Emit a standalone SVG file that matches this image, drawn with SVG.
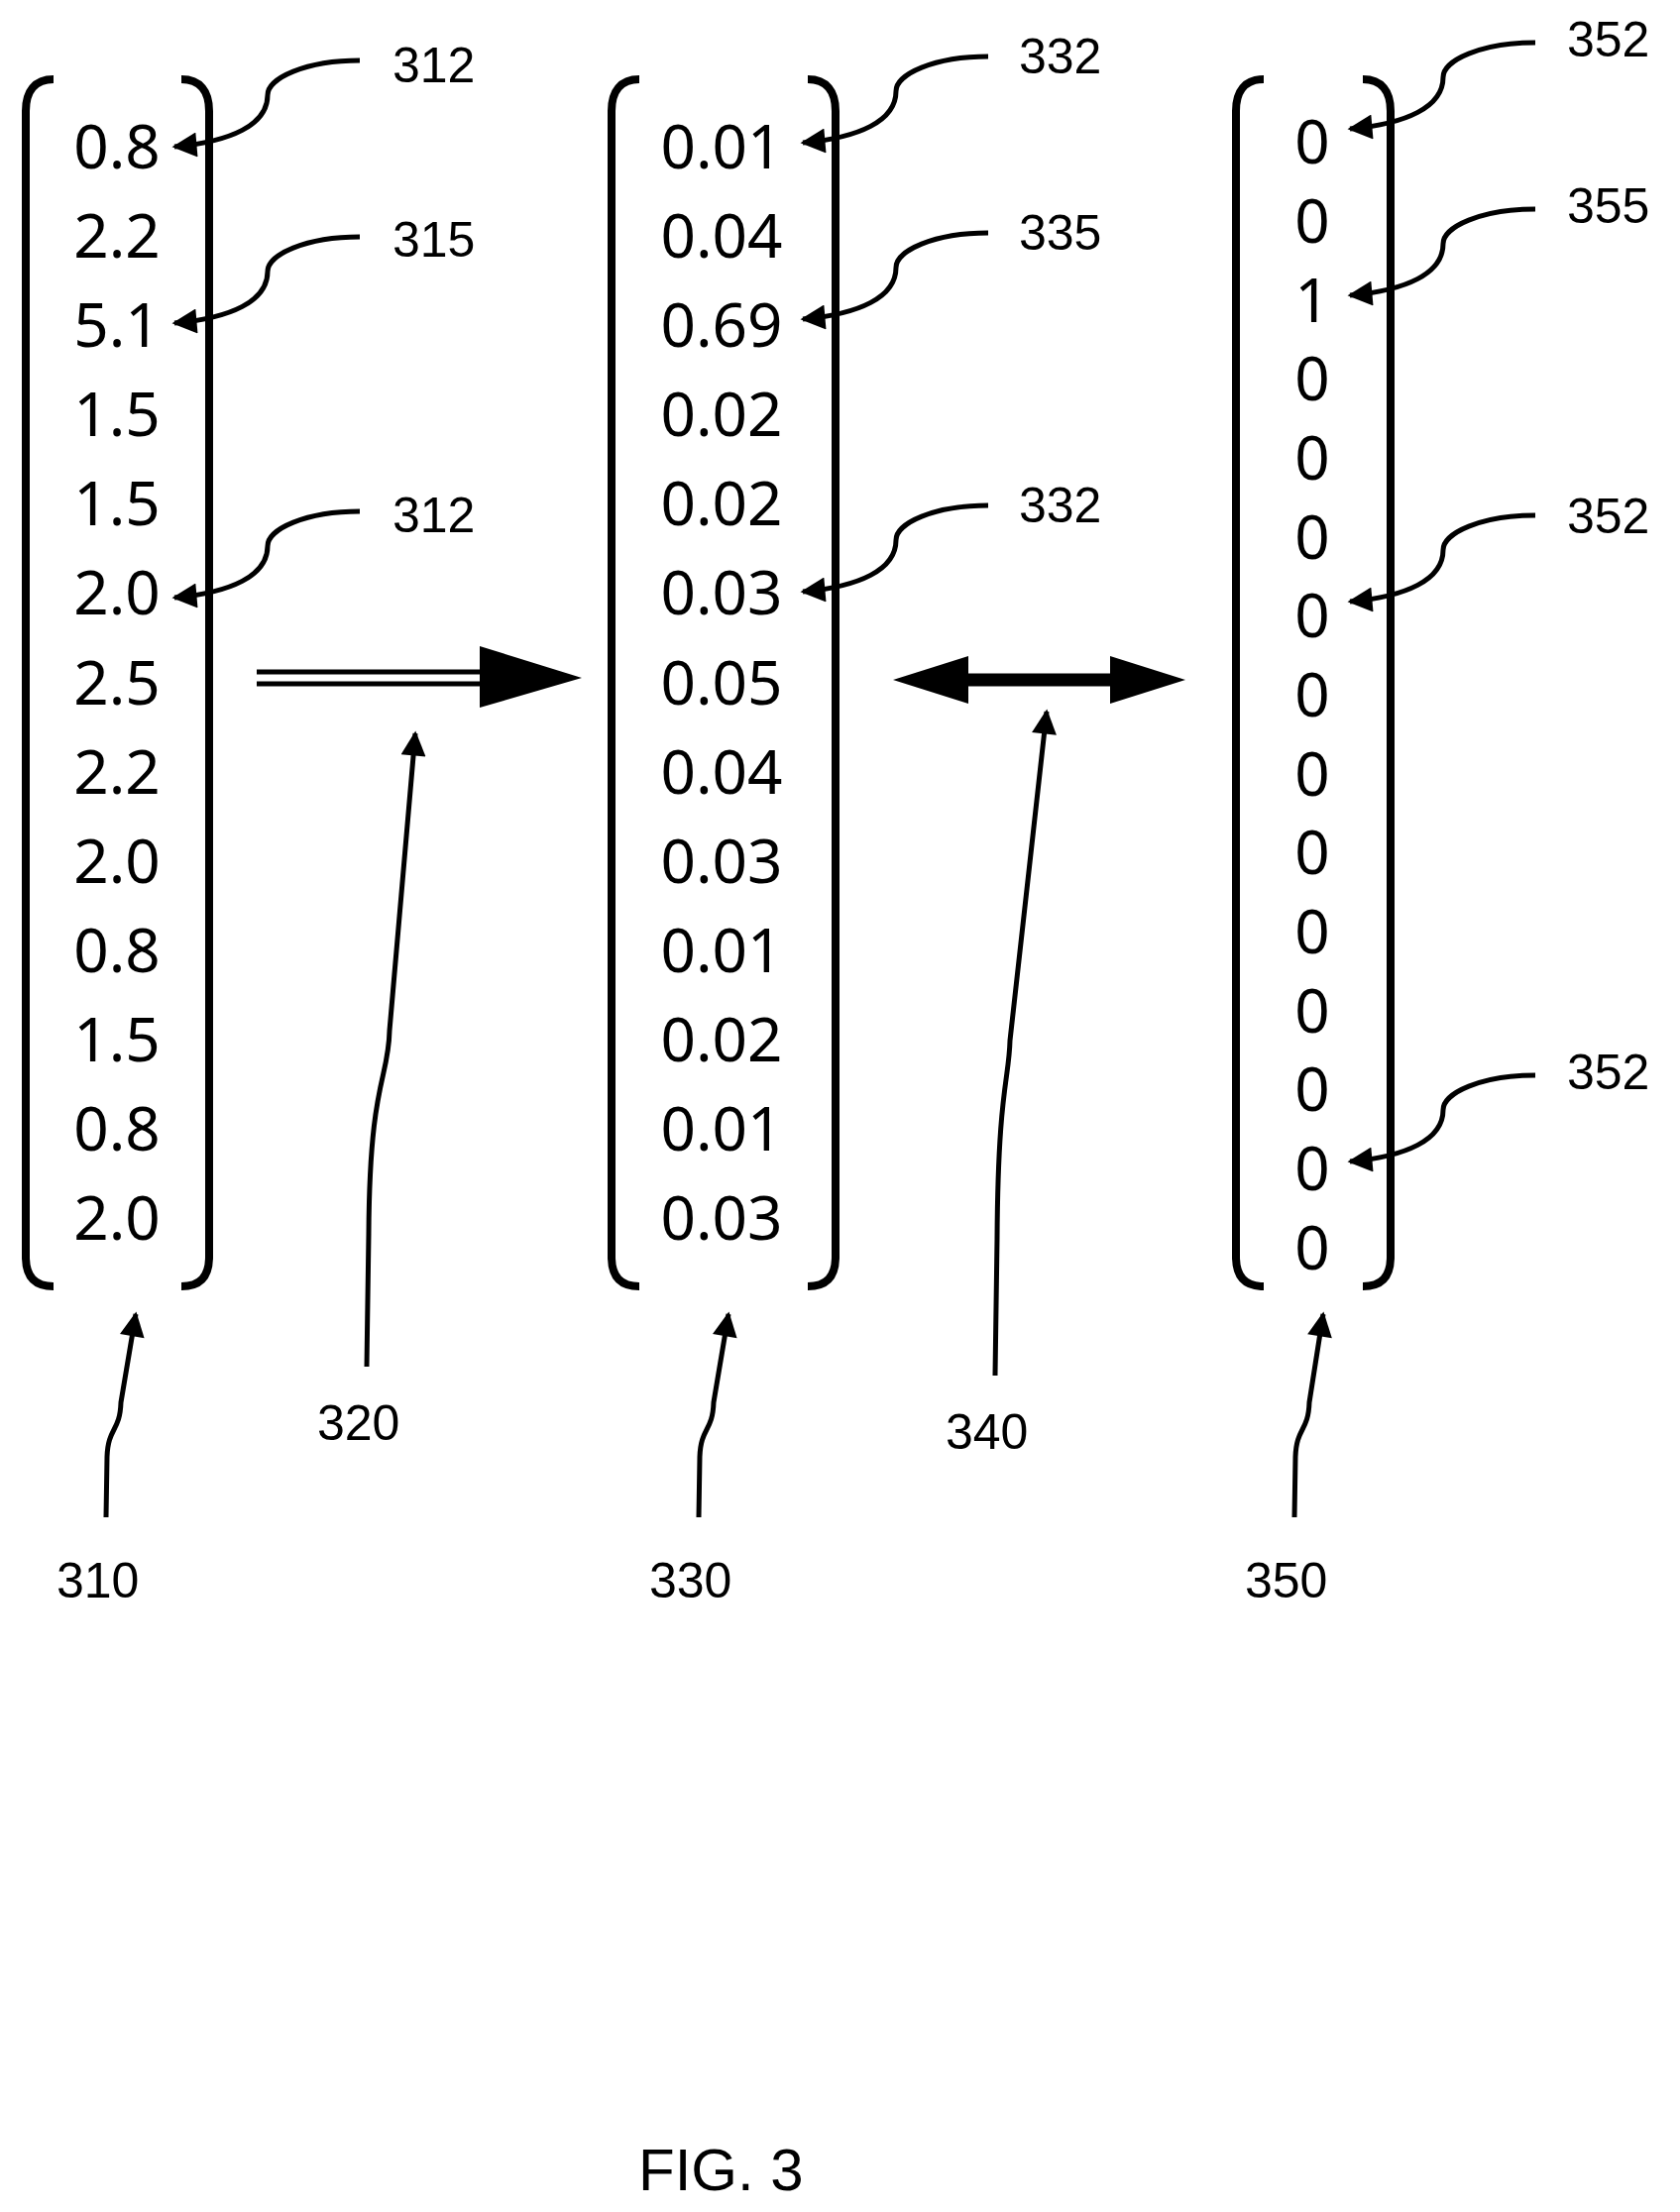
<svg xmlns="http://www.w3.org/2000/svg" width="1695" height="2232" viewBox="0 0 1695 2232">
<style>
.v{font-family:"Noto Sans","Liberation Sans",sans-serif;font-size:62px;text-anchor:middle;fill:#000}
.l{font-family:"Liberation Sans",Arial,sans-serif;font-size:50px;fill:#000}
.br{fill:none;stroke:#000;stroke-width:8}
.ld{fill:none;stroke:#000;stroke-width:5}
</style>
<defs>
<marker id="ah" viewBox="0 0 10 10" refX="9" refY="5" markerWidth="6" markerHeight="5" markerUnits="strokeWidth" orient="auto"><path d="M0,0 L10,5 L0,10 z"/></marker>
</defs>
<g id="vec310">
<path class="br" d="M54,80 C35,80 26,92 26,112 L26,1268 C26,1288 35,1298 54,1298"/>
<path class="br" d="M183,80 C202,80 211,92 211,112 L211,1268 C211,1288 202,1298 183,1298"/>
<text class="v" x="118" y="170">0.8</text><text class="v" x="118" y="260">2.2</text><text class="v" x="118" y="350">5.1</text><text class="v" x="118" y="440">1.5</text><text class="v" x="118" y="530">1.5</text><text class="v" x="118" y="620">2.0</text><text class="v" x="118" y="711">2.5</text><text class="v" x="118" y="801">2.2</text><text class="v" x="118" y="891">2.0</text><text class="v" x="118" y="981">0.8</text><text class="v" x="118" y="1071">1.5</text><text class="v" x="118" y="1161">0.8</text><text class="v" x="118" y="1251">2.0</text>
</g>
<g id="vec330">
<path class="br" d="M645,80 C626,80 617,92 617,112 L617,1268 C617,1288 626,1298 645,1298"/>
<path class="br" d="M815,80 C834,80 843,92 843,112 L843,1268 C843,1288 834,1298 815,1298"/>
<text class="v" x="728" y="170">0.01</text><text class="v" x="728" y="260">0.04</text><text class="v" x="728" y="350">0.69</text><text class="v" x="728" y="440">0.02</text><text class="v" x="728" y="530">0.02</text><text class="v" x="728" y="620">0.03</text><text class="v" x="728" y="711">0.05</text><text class="v" x="728" y="801">0.04</text><text class="v" x="728" y="891">0.03</text><text class="v" x="728" y="981">0.01</text><text class="v" x="728" y="1071">0.02</text><text class="v" x="728" y="1161">0.01</text><text class="v" x="728" y="1251">0.03</text>
</g>
<g id="vec350">
<path class="br" d="M1275,80 C1256,80 1247,92 1247,112 L1247,1268 C1247,1288 1256,1298 1275,1298"/>
<path class="br" d="M1375,80 C1394,80 1403,92 1403,112 L1403,1268 C1403,1288 1394,1298 1375,1298"/>
<text class="v" x="1324" y="165">0</text><text class="v" x="1324" y="245">0</text><text class="v" x="1324" y="325">1</text><text class="v" x="1324" y="404">0</text><text class="v" x="1324" y="484">0</text><text class="v" x="1324" y="564">0</text><text class="v" x="1324" y="643">0</text><text class="v" x="1324" y="723">0</text><text class="v" x="1324" y="803">0</text><text class="v" x="1324" y="882">0</text><text class="v" x="1324" y="962">0</text><text class="v" x="1324" y="1042">0</text><text class="v" x="1324" y="1121">0</text><text class="v" x="1324" y="1201">0</text><text class="v" x="1324" y="1281">0</text>
</g>
<g id="labels">
<text class="l" x="396" y="83">312</text><text class="l" x="396" y="259">315</text><text class="l" x="396" y="537">312</text>
<text class="l" x="1028" y="74">332</text><text class="l" x="1028" y="252">335</text><text class="l" x="1028" y="527">332</text>
<text class="l" x="1581" y="57">352</text><text class="l" x="1581" y="225">355</text><text class="l" x="1581" y="538">352</text><text class="l" x="1581" y="1099">352</text>
<text class="l" x="320" y="1453">320</text><text class="l" x="954" y="1462">340</text>
<text class="l" x="57" y="1612">310</text><text class="l" x="655" y="1612">330</text><text class="l" x="1256" y="1612">350</text>
<text class="l" x="644" y="2210" style="font-size:60px">FIG. 3</text>
</g>
<g id="connectors">
<path class="ld" marker-end="url(#ah)" d="M363,61 C308,61 270,79 270,96 C270,126 233,143 176,148"/>
<path class="ld" marker-end="url(#ah)" d="M363,239 C308,239 270,257 270,274 C270,304 233,321 176,326"/>
<path class="ld" marker-end="url(#ah)" d="M363,516 C308,516 270,534 270,551 C270,581 233,598 176,603"/>
<path class="ld" marker-end="url(#ah)" d="M997,57 C942,57 904,75 904,92 C904,122 867,139 810,144"/>
<path class="ld" marker-end="url(#ah)" d="M997,235 C942,235 904,253 904,270 C904,300 867,317 810,322"/>
<path class="ld" marker-end="url(#ah)" d="M997,510 C942,510 904,528 904,545 C904,575 867,592 810,597"/>
<path class="ld" marker-end="url(#ah)" d="M1549,43 C1494,43 1456,61 1456,78 C1456,108 1419,125 1362,130"/>
<path class="ld" marker-end="url(#ah)" d="M1549,211 C1494,211 1456,229 1456,246 C1456,276 1419,293 1362,298"/>
<path class="ld" marker-end="url(#ah)" d="M1549,520 C1494,520 1456,538 1456,555 C1456,585 1419,602 1362,607"/>
<path class="ld" marker-end="url(#ah)" d="M1549,1085 C1494,1085 1456,1103 1456,1120 C1456,1150 1419,1167 1362,1172"/>
<line x1="259" y1="678" x2="486" y2="678" stroke="#000" stroke-width="5"/>
<line x1="259" y1="690" x2="486" y2="690" stroke="#000" stroke-width="5"/>
<polygon points="484,652 587,684 484,714"/>
<line x1="970" y1="686" x2="1128" y2="686" stroke="#000" stroke-width="13"/>
<polygon points="901,686 977,662 977,710"/>
<polygon points="1196,686 1120,662 1120,710"/>
<path class="ld" marker-end="url(#ah)" d="M370,1379 L372,1245 C373,1090 392,1090 393,1040 L419,740"/>
<path class="ld" marker-end="url(#ah)" d="M1004,1388 L1006,1250 C1007,1100 1018,1090 1019,1050 L1056,718"/>
<path class="ld" marker-end="url(#ah)" d="M107,1531 L108,1470 C109,1440 121,1445 122,1415 L137,1326"/>
<path class="ld" marker-end="url(#ah)" d="M705,1531 L706,1470 C707,1440 719,1445 720,1415 L735,1326"/>
<path class="ld" marker-end="url(#ah)" d="M1306,1531 L1307,1470 C1308,1440 1320,1445 1321,1415 L1335,1326"/>
</g>
</svg>
